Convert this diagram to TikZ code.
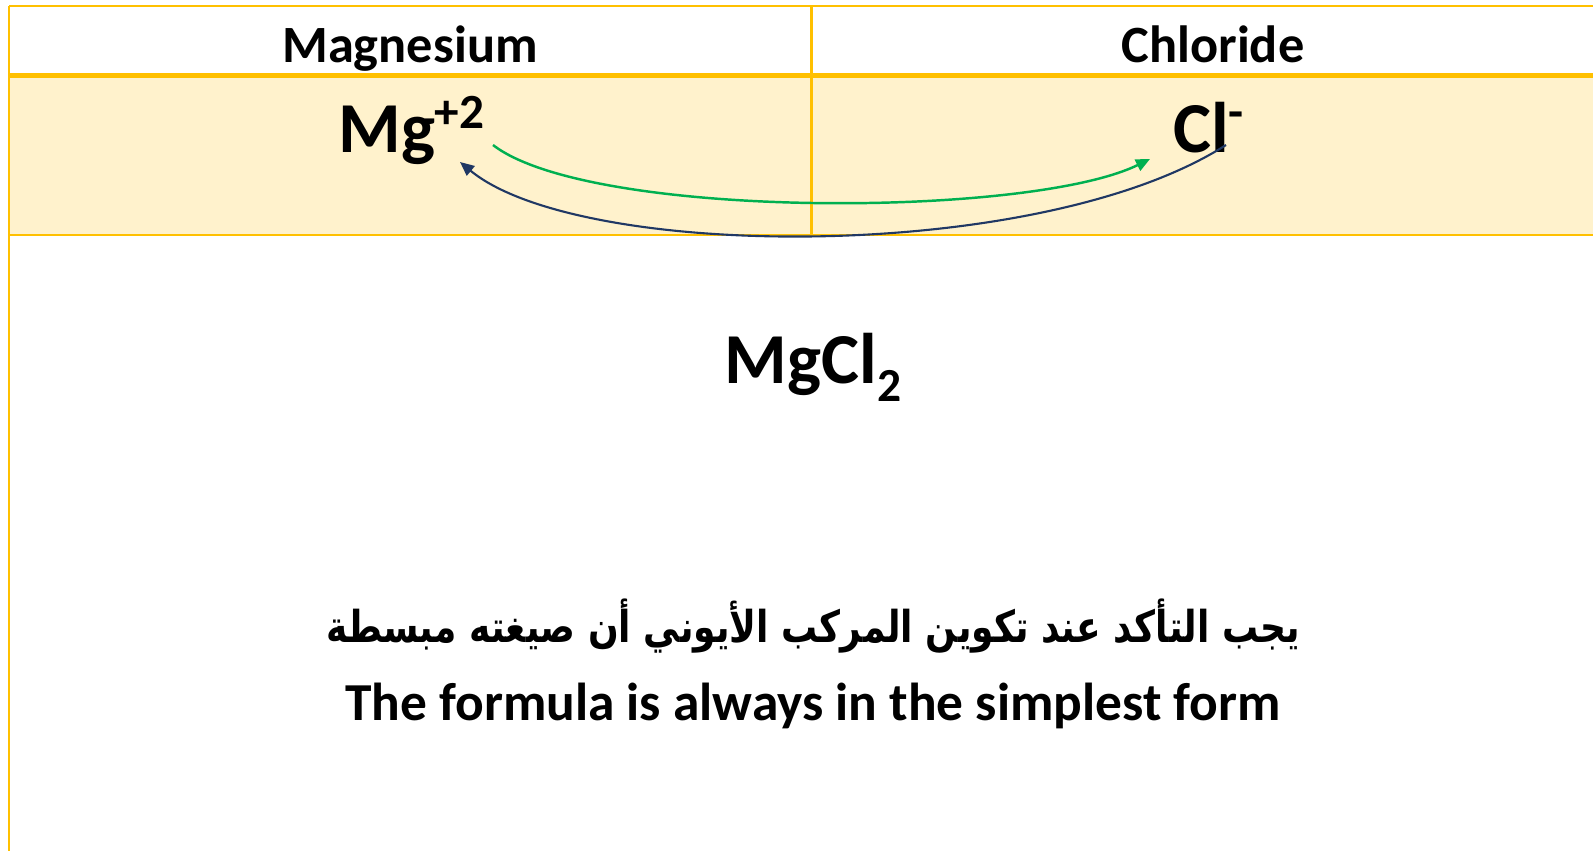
\documentclass[tikz,border=0pt]{standalone}
\usepackage{fontspec}
\setmainfont{Carlito}
\newfontfamily\arabicfont[Script=Arabic, FakeStretch=0.82]{DejaVu Sans}
\TeXXeTstate=1
\definecolor{TabGold}{HTML}{FFC000}
\definecolor{TabCream}{HTML}{FFF2CC}
\definecolor{ArrGreen}{HTML}{00B050}
\definecolor{ArrNavy}{HTML}{203864}
\newcommand\ionsup[1]{\raisebox{0.34em}{\fontsize{28}{28}\selectfont #1}}
\newcommand\ionsub[1]{\raisebox{-0.26em}{\fontsize{27}{27}\selectfont #1}}
\usetikzlibrary{arrows.meta}

\begin{document}
\begin{tikzpicture}[x=0.02cm, y=-0.02cm,
   headtxt/.style={font=\fontsize{29.8}{34}\selectfont\bfseries, anchor=base, inner sep=0pt},
   iontxt/.style={font=\fontsize{40.8}{46}\selectfont\bfseries, anchor=base west, inner sep=0pt},
   notetxt/.style={font=\fontsize{30.4}{34}\selectfont\bfseries, anchor=base, inner sep=0pt}]
      \useasboundingbox (0,0) rectangle (1593,851);
      % Table
      \fill[TabCream] (9,75) rectangle (1616,235);
      \draw[TabGold, line width=1.2pt] (9,6) -- (1616,6);
      \draw[TabGold, line width=1.3pt] (9,235) -- (1616,235);
      \draw[TabGold, line width=1.7pt] (9,6) -- (9,851);
      \draw[TabGold, line width=1.7pt] (811,6) -- (811,235);
      \draw[TabGold, line width=2.8pt] (9,75.5) -- (1616,75.5);
      % Headers
      \node[headtxt] (magHead) at (410,63) {Magnesium};
      \node[headtxt] (chlHead) at (1213,63) {Chloride};
      % Ions
      \node[iontxt] (mgIon) at (338,153) {Mg\ionsup{+2}};
      \node[iontxt] (clIon) at (1173,153) {Cl\ionsup{-}};
      % Exchange arrows
      \coordinate (gStart) at (493,145);
      \coordinate (gEnd) at (1150,159);
      \coordinate (nStart) at (1226,145);
      \coordinate (nEnd) at (460,162);
      \draw[ArrGreen, line width=1.4pt, -{Triangle[length=8pt, width=7pt]}]
         (gStart) .. controls (590,220) and (1030,218) .. (gEnd);
      \draw[ArrNavy, line width=1.2pt, -{Triangle[length=8pt, width=7pt]}]
         (nStart) .. controls (1040,264) and (580,261) .. (nEnd);
      % Formula
      \node[iontxt, anchor=base] (formula) at (813,383) {MgCl\ionsub{2}};
      % Notes
      \node[font=\fontsize{25}{28}\selectfont\bfseries, inner sep=0pt] (noteAr) at (813,626)
         {\arabicfont\beginR يجب التأكد عند تكوين المركب الأيوني أن صيغته مبسطة\endR};
      \node[notetxt] (noteEn) at (813,720) {The formula is always in the simplest form};
\end{tikzpicture}
\end{document}
